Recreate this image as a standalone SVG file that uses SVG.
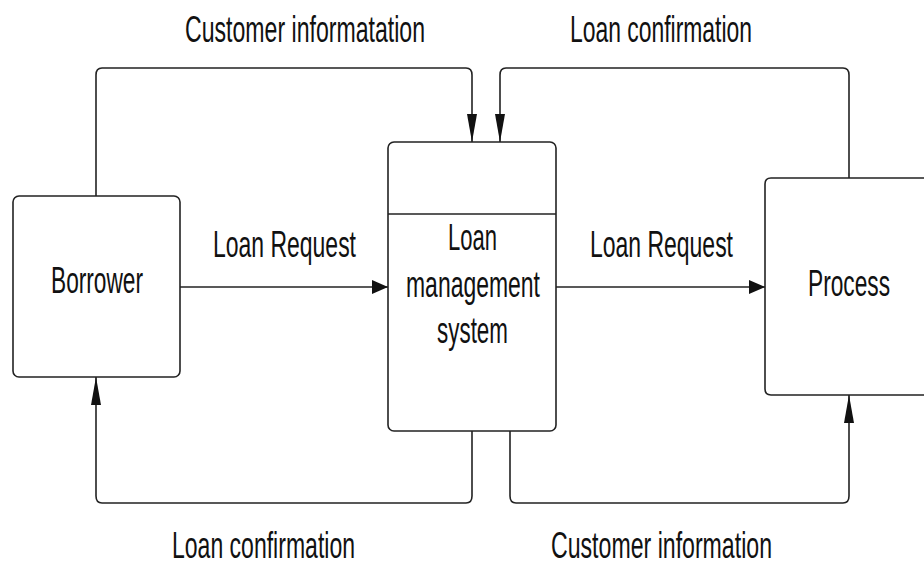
<svg xmlns="http://www.w3.org/2000/svg" width="924" height="566" viewBox="0 0 924 566">
  <style>
    .box { fill: #ffffff; stroke: #222222; stroke-width: 1.6; }
    .conn { fill: none; stroke: #222222; stroke-width: 1.6; }
    .lbl { font-family: "Liberation Sans", Arial, sans-serif; font-size: 37px; fill: #111111; }
  </style>
  <defs>
    <marker id="ah" viewBox="0 0 16 14" markerWidth="16" markerHeight="14" refX="16" refY="7" orient="auto" markerUnits="userSpaceOnUse">
      <path d="M0,0 L16,7 L0,14 z" fill="#111111"/>
    </marker>
    <marker id="av" viewBox="0 0 28 10" markerWidth="28" markerHeight="10" refX="28" refY="5" orient="auto" markerUnits="userSpaceOnUse">
      <path d="M0,0 L28,5 L0,10 z" fill="#111111"/>
    </marker>
  </defs>
  <rect width="924" height="566" fill="#ffffff"/>

  <g id="connectors">
    <path class="conn" d="M96,196 V75 Q96,68 102,68 H466 Q472,68 472,75 V142" marker-end="url(#av)"/>
    <path class="conn" d="M849,178 V75 Q849,68 843,68 H506 Q500,68 500,75 V142" marker-end="url(#av)"/>
    <path class="conn" d="M180,287 H388" marker-end="url(#ah)"/>
    <path class="conn" d="M556,287 H765" marker-end="url(#ah)"/>
    <path class="conn" d="M472,431 V496 Q472,503 466,503 H102 Q96,503 96,496 V377" marker-end="url(#av)"/>
    <path class="conn" d="M510,431 V496 Q510,503 516,503 H843 Q849,503 849,496 V395" marker-end="url(#av)"/>
    <text class="lbl" x="185" y="42" textLength="240" lengthAdjust="spacingAndGlyphs">Customer informatation</text>
    <text class="lbl" x="570" y="42" textLength="182" lengthAdjust="spacingAndGlyphs">Loan confirmation</text>
    <text class="lbl" x="213" y="257" textLength="143" lengthAdjust="spacingAndGlyphs">Loan Request</text>
    <text class="lbl" x="590" y="257" textLength="143" lengthAdjust="spacingAndGlyphs">Loan Request</text>
    <text class="lbl" x="172" y="558" textLength="183" lengthAdjust="spacingAndGlyphs">Loan confirmation</text>
    <text class="lbl" x="551" y="558" textLength="221" lengthAdjust="spacingAndGlyphs">Customer information</text>
  </g>

  <g id="borrower">
    <rect class="box" x="13" y="196" width="167" height="181" rx="6" ry="6"/>
    <text class="lbl" x="51" y="293" textLength="92" lengthAdjust="spacingAndGlyphs">Borrower</text>
  </g>

  <g id="loan-management-system">
    <rect class="box" x="388" y="142" width="168" height="289" rx="6" ry="6"/>
    <line class="conn" x1="388" y1="214" x2="556" y2="214"/>
    <text class="lbl" x="448" y="250" textLength="49" lengthAdjust="spacingAndGlyphs">Loan</text>
    <text class="lbl" x="406" y="297" textLength="134" lengthAdjust="spacingAndGlyphs">management</text>
    <text class="lbl" x="437" y="343" textLength="71" lengthAdjust="spacingAndGlyphs">system</text>
  </g>

  <g id="process">
    <path class="box" d="M924,178 H771 Q765,178 765,184 V389 Q765,395 771,395 H924"/>
    <text class="lbl" transform="translate(808,296) scale(0.614,1)" x="0" y="0">Process</text>
  </g>
</svg>
